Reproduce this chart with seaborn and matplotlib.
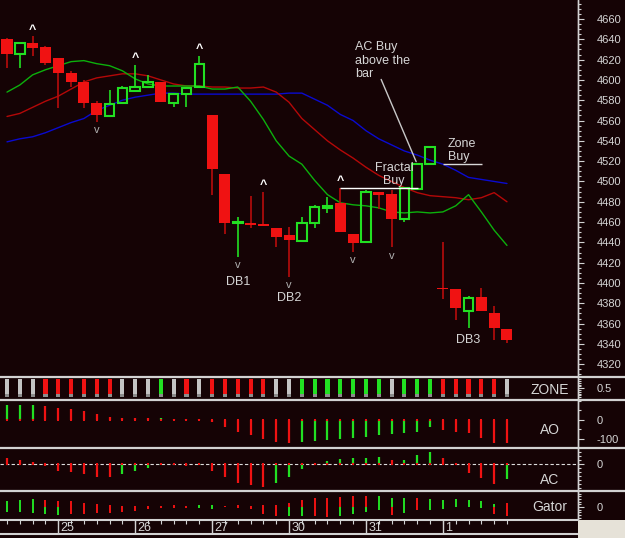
"""
Bill Williams style chart: candles + alligator lines on top,
Zone / AO / AC / Gator strips underneath.
"""
import matplotlib
matplotlib.use("Agg")
import matplotlib.pyplot as plt
import numpy as np
import pandas as pd
import seaborn as sns
from matplotlib.lines import Line2D
from matplotlib.patches import Rectangle
from matplotlib.ticker import MultipleLocator

# ---- data ------------------------------------------------------------------
opens = [4640, 4626, 4636, 4632, 4622, 4607, 4598, 4577, 4564, 4577,
         4589, 4593, 4598, 4577, 4586, 4593, 4565, 4507, 4459.5, 4459,
         4458, 4454, 4447, 4441, 4459, 4474, 4479, 4448, 4440, 4490,
         4488, 4463, 4493, 4517, 4395.5, 4394, 4372, 4386, 4370, 4355]
highs = [4641, 4636, 4643, 4633, 4622, 4609, 4600, 4579, 4590, 4594,
         4615, 4605, 4598, 4586, 4592, 4624, 4565, 4507, 4465, 4486,
         4490, 4454, 4455, 4465, 4477, 4485, 4494, 4448, 4492, 4490,
         4492, 4494, 4517, 4535, 4440, 4394, 4387, 4395, 4377, 4355]
lows = [4612, 4612, 4624, 4615, 4572, 4593, 4572, 4559, 4564, 4577,
        4589, 4593, 4578, 4573, 4573, 4593, 4487, 4448, 4426, 4454,
        4456, 4435, 4406, 4441, 4454, 4469, 4450, 4431, 4440, 4473,
        4435, 4460, 4493, 4517, 4384, 4364, 4356, 4372, 4344, 4341]
closes = [4626, 4636, 4631, 4617, 4607, 4598, 4577, 4565, 4576, 4592,
          4593, 4598, 4578, 4586, 4592, 4616, 4512, 4459, 4460.5, 4457,
          4456, 4445, 4442, 4459, 4475, 4476, 4450, 4439, 4490, 4487,
          4463, 4494, 4517, 4534, 4394.5, 4375, 4385, 4372, 4356, 4344]

# alligator: jaw (blue), teeth (red), lips (green)
jaw = [4539, 4542, 4544, 4548, 4553, 4558, 4562, 4570, 4575, 4580,
       4583, 4585, 4587, 4587, 4586, 4586, 4586, 4586, 4586, 4586,
       4586, 4586, 4587, 4587, 4581, 4575, 4566, 4560, 4550, 4542,
       4536, 4530, 4526, 4521, 4517, 4511, 4504, 4502, 4500, 4498]
teeth = [4564, 4567, 4573, 4579, 4584, 4591, 4598, 4602, 4604, 4606,
         4606, 4604, 4600, 4596, 4594, 4594, 4593, 4593, 4592, 4592,
         4593, 4588, 4578, 4562, 4551, 4540, 4531, 4523, 4514, 4506,
         4500, 4494, 4489, 4486, 4485, 4484, 4482, 4484, 4489, 4480]
lips = [4588, 4595, 4605, 4610, 4614, 4618, 4619, 4616, 4614, 4609,
        4601, 4596, 4594, 4594, 4594, 4594, 4591, 4591, 4593, 4579,
        4561, 4540, 4525, 4517, 4501, 4487, 4479, 4477, 4476, 4474,
        4470, 4469, 4470, 4469, 4470, 4476, 4487, 4470, 4452, 4437]

fractal_up = [2, 10, 15, 20, 26]
fractal_down = [7, 18, 22, 27, 30]
zone_buy_level = 4517

zone = list("nnnrrrrrrnnngnrnrrrrrnngggggggngggrrrrrn")
ao = [79, 79, 79, 74, 65, 56, 46, 32, 18, 11, 11, 11, 9, 5, 4, 4,
      -12, -35, -61, -79, -102, -114, -119, -114, -110, -105, -100, -93,
      -88, -79, -75, -70, -61, -39, -53, -61, -70, -96, -119, -119]
ao_col = list("GGGRRRRRRRRRGRRRRRRRRRRGGGGGGGGGGGRRRRRR")
ac = [18, 13, 8, -5, -20, -23, -29, -37, -37, -28,
      -20, -12, -2, -2, -5, -2, -20, -39, -55, -62,
      -67, -55, -37, -14, -3, 10, 16, 20, 18, 21,
      13, 13, 28, 38, 18, -3, -27, -42, -59, -45]
ac_col = list("RRRRRRRRRGGGGRRGRRRRRGGGRGGGGGRGGGRRRRRG")
gator_up = [17, 20, 23, 20, 17, 17, 13, 8, 5, 2, 4, 4, 2, 5, 3, 5, 5, 3, 5, 3,
            5, 5, 12, 20, 28, 28, 30, 32, 34, 32, 28, 27, 27, 25, 22, 23, 20, 17, 10, 13]
gator_dn = [15, 15, 18, 20, 25, 22, 20, 18, 17, 15, 12, 7, 3, 2, 2, 2, 5, 1, 2, 5,
            20, 28, 28, 27, 27, 30, 28, 20, 15, 10, 25, 18, 8, 8, 5, 1, 1, 2, 20, 27]
gator_up_col = list("GGGRRRRRRRRRRRRGGRRRRRRRRRRRRGGGRGGGGGGR")
gator_dn_col = list("GGGGGRRRRRRRRRRGGRRRRRGGRRGGGGRGRGGGGGRR")

day_labels = ["25", "26", "27", "30", "31", "1"]
day_start = [4, 10, 16, 22, 28, 34]

# ---- style -------------------------------------------------------------------
W, H = 625, 538
AXIS_X = 578
BG = "#150305"
RED = "#f01212"
WICK_RED = "#b80c0c"
GREEN = "#22e022"
LINE = "#d2d2d2"
TXT = "#d6d6d6"
PAL = {"R": RED, "G": GREEN, "r": RED, "g": GREEN, "n": "#c4c4c4"}
ALLIGATOR = {"jaw": "#0a0ad0", "teeth": "#b40808", "lips": "#0cb00c"}
XLIM = (-0.546, 44.54)

sns.set_theme(style="dark", rc={"axes.facecolor": BG, "figure.facecolor": BG})
plt.rcParams["font.family"] = ["Liberation Sans", "DejaVu Sans"]
plt.rcParams["axes.unicode_minus"] = False


def rect(top, bottom, left=0, right=AXIS_X):
    return [left / W, 1 - bottom / H, (right - left) / W, (bottom - top) / H]


def style_panel(ax, ylim, major, minor):
    ax.set_facecolor(BG)
    ax.set_xlim(*XLIM)
    ax.set_ylim(*ylim)
    for s in ("left", "top", "bottom"):
        ax.spines[s].set_visible(False)
    ax.spines["right"].set_color(LINE)
    ax.spines["right"].set_linewidth(1.0)
    ax.set_xticks([])
    ax.set_xlabel(""); ax.set_ylabel("")
    ax.yaxis.tick_right()
    ax.yaxis.set_major_locator(major)
    ax.yaxis.set_minor_locator(minor)
    ax.tick_params(axis="y", which="both", colors=LINE, labelcolor=TXT,
                   labelsize=8, direction="out", width=0.8)
    ax.tick_params(axis="y", which="major", length=4.5, pad=9)
    ax.tick_params(axis="y", which="minor", length=2.2)
    ax.grid(False)


def panel_label(ax, text, y=0.42):
    ax.text(550 / AXIS_X, y, text, transform=ax.transAxes, ha="center",
            va="center", color=TXT, fontsize=10)


def main():
    x = np.arange(len(opens))
    o, h, l, c = (np.asarray(v, dtype=float) for v in (opens, highs, lows, closes))
    up = c > o
    top, bot = np.maximum(o, c), np.minimum(o, c)

    fig = plt.figure(figsize=(W / 100, H / 100), dpi=100)

    # ---- main price panel ----
    ax = fig.add_axes(rect(0, 375))
    df = pd.DataFrame({"bar": np.tile(x, 3),
                       "price": np.concatenate([jaw, teeth, lips]),
                       "line": np.repeat(list(ALLIGATOR), len(x))})
    sns.lineplot(data=df, x="bar", y="price", hue="line", palette=ALLIGATOR,
                 estimator=None, legend=False, linewidth=1.0, ax=ax, zorder=1)

    ax.vlines(x[up], top[up], h[up], colors=GREEN, lw=1.2, zorder=2)
    ax.vlines(x[up], l[up], bot[up], colors=GREEN, lw=1.2, zorder=2)
    ax.vlines(x[~up], l[~up], h[~up], colors=WICK_RED, lw=1.2, zorder=2)
    ax.bar(x[~up], np.maximum(top - bot, 1.0)[~up], bottom=bot[~up], width=0.86,
           color=RED, lw=0, zorder=3)
    ax.bar(x[up], np.maximum(top - bot, 0.3)[up], bottom=bot[up], width=0.74,
           facecolor="none", edgecolor=GREEN, lw=1.5, zorder=3)

    for i in fractal_up:
        ax.text(i, h[i] + 0.5, "^", ha="center", va="bottom", color="white",
                fontsize=9, fontweight="bold", zorder=4)
    for i in fractal_down:
        ax.text(i, l[i] - 3, "v", ha="center", va="top", color="#b0b0b0",
                fontsize=8, zorder=4)

    for lab, i, y in [("DB1", 18, 4401), ("DB2", 22, 4385), ("DB3", 36, 4344)]:
        ax.text(i, y, lab, ha="center", va="center", color=TXT, fontsize=9)

    # fractal buy level from bar 26 high
    ax.hlines(h[26], 26, 32.05, color="white", lw=1.0, zorder=4)
    ax.text(30.2, h[26] + 1.0, "Fractal\nBuy", ha="center", va="bottom",
            color=TXT, fontsize=9, linespacing=1.1, zorder=5)
    ax.annotate("", xy=(32, h[32]), xytext=(29.1, 4603),
                arrowprops=dict(arrowstyle="-", color="#c8c8c8", lw=1.0))
    ax.text(27.15, 4638, "AC Buy\nabove the\nbar", ha="left", va="top",
            color=TXT, fontsize=9, linespacing=1.15)
    ax.hlines(zone_buy_level, 34.0, 37.05, color="#d8d8d8", lw=1.0)
    ax.text(34.4, zone_buy_level + 1.0, "Zone\nBuy", ha="left", va="bottom",
            color=TXT, fontsize=9, linespacing=1.1)

    style_panel(ax, (4309.4, 4678.7), MultipleLocator(20), MultipleLocator(5))

    # ---- zone ----
    axz = fig.add_axes(rect(378, 398))
    axz.bar(x, 0.8, bottom=0.2, width=0.32, color=[PAL[z] for z in zone], lw=0)
    axz.bar(x, 0.2, bottom=0.0, width=0.32, color="#8c8c8c", lw=0)
    style_panel(axz, (-0.05, 1.08), MultipleLocator(0.5), MultipleLocator(0.1))
    axz.set_yticks([0.5]); axz.set_yticklabels(["0.5"])
    panel_label(axz, "ZONE")

    # ---- AO ----
    axo = fig.add_axes(rect(401, 446))
    axo.vlines(x, 0, ao, colors=[PAL[k] for k in ao_col], lw=1.6)
    axo.scatter(x, np.zeros(len(x)), marker="s", s=3, color=RED, lw=0, zorder=3)
    style_panel(axo, (-137, 100), MultipleLocator(100), MultipleLocator(50))
    axo.set_yticks([-100, 0])
    panel_label(axo, "AO", 0.36)

    # ---- AC ----
    axc = fig.add_axes(rect(449, 489))
    axc.axhline(0, color="#dcdcdc", lw=0.8, ls=(0, (3, 2)), zorder=1)
    axc.vlines(x, 0, ac, colors=[PAL[k] for k in ac_col], lw=1.6, zorder=2)
    axc.scatter(x, np.zeros(len(x)), marker="s", s=3, color=RED, lw=0, zorder=3)
    style_panel(axc, (-74, 46), MultipleLocator(100), MultipleLocator(12))
    axc.set_yticks([0])
    panel_label(axc, "AC", 0.22)

    # ---- Gator ----
    axg = fig.add_axes(rect(492, 520))
    axg.vlines(x, 0, gator_up, colors=[PAL[k] for k in gator_up_col], lw=1.4)
    axg.vlines(x, 0, -np.asarray(gator_dn), colors=[PAL[k] for k in gator_dn_col], lw=1.4)
    style_panel(axg, (-39, 45), MultipleLocator(100), MultipleLocator(8))
    axg.set_yticks([0])
    panel_label(axg, "Gator", 0.46)

    # ---- date axis ----
    axd = fig.add_axes(rect(520, 534))
    axd.set_facecolor(BG)
    axd.set_xlim(*XLIM); axd.set_ylim(0, 1)
    for s in ("left", "right"):
        axd.spines[s].set_visible(False)
    for s in ("top", "bottom"):
        axd.spines[s].set_color(LINE); axd.spines[s].set_linewidth(1.5)
    axd.set_yticks([])
    axd.xaxis.tick_top()
    axd.set_xticks(x)
    axd.tick_params(axis="x", direction="in", length=3, width=0.8, colors=LINE,
                    labeltop=False, labelbottom=False)
    axd.vlines(day_start, 0, 1, color=LINE, lw=1.0)
    for d, lab in zip(day_start, day_labels):
        axd.text(d + 0.18, 0.42, lab, ha="left", va="center", color=TXT, fontsize=9)
    axd.grid(False)

    # separators, right axis line, bottom-right box
    for ypx in (376.5, 399.5, 447.5, 490.5):
        fig.add_artist(Line2D([0, 1], [1 - ypx / H] * 2, transform=fig.transFigure,
                              color=LINE, lw=1.6))
    fig.add_artist(Line2D([AXIS_X / W] * 2, [1 - 520 / H, 1], transform=fig.transFigure,
                          color=LINE, lw=1.0))
    fig.add_artist(Rectangle((AXIS_X / W, 0), (W - AXIS_X) / W, 18 / H,
                             transform=fig.transFigure, color="#e6e2d8", lw=0))

    fig.savefig("out.png", dpi=100, facecolor=BG)
    plt.close(fig)


if __name__ == "__main__":
    main()
